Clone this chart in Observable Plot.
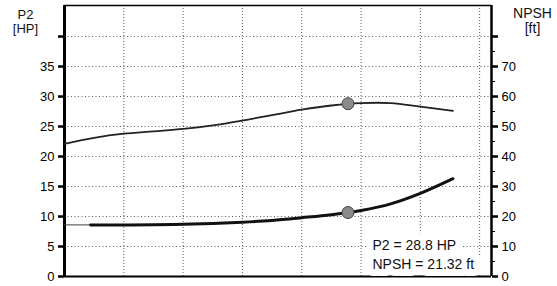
<!DOCTYPE html>
<html>
<head>
<meta charset="utf-8">
<script src="https://cdn.jsdelivr.net/npm/d3@7"></script>
<script src="https://cdn.jsdelivr.net/npm/@observablehq/plot@0.6"></script>
<style>
  html, body { margin: 0; padding: 0; background: #fff; }
  svg { display: block; }
</style>
</head>
<body>
<div id="chart"></div>
<script>
// ---- data ----
const flow  = [0, 0.5, 1, 1.5, 2, 2.5, 3, 3.5, 4, 4.5, 5, 5.5, 6, 6.55];
const p2Hp  = [22.1, 23.1, 23.8, 24.2, 24.6, 25.2, 26.0, 26.9, 27.8, 28.5, 28.9, 28.9, 28.3, 27.6];

const npshFlow = [0.44, 1, 2, 3, 3.5, 4, 4.5, 5, 5.5, 6, 6.55];
const npshFt   = [17.2, 17.2, 17.4, 18.1, 18.7, 19.6, 20.6, 22.0, 24.2, 27.7, 32.6];
const npshLeadFlow = [0, 0.44];
const npshLeadFt   = [17.2, 17.2];

const dutyFlow = [4.78];
const dutyP2   = [28.8];
const dutyNpsh = [21.32];

const xGrid   = [1, 2, 3, 4, 5, 6, 7];
const hpTicks = [0, 5, 10, 15, 20, 25, 30, 35, 40];
const hpGrid  = [5, 10, 15, 20, 25, 30, 35, 40];
const ftTicks = [0, 10, 20, 30, 40, 50, 60, 70, 80];
const ftMinor = [5, 15, 25, 35, 45, 55, 65, 75];
const hpUnlabeled = [40];
const ftUnlabeled = [80];

const leftTitle  = "P2\n[HP]";
const rightTitle = "NPSH\n[ft]";
const note = "P2 = 28.8 HP\nNPSH = 21.32 ft";

const xMax = 7.2, yMax = 45.17;
const ftToHp = v => v / 2; // right axis: 80 ft spans same height as 40 HP

const p2Data   = flow.map((x, i) => ({x, y: p2Hp[i]}));
const npshData = npshFlow.map((x, i) => ({x, y: npshFt[i]}));
const leadData = npshLeadFlow.map((x, i) => ({x, y: npshLeadFt[i]}));
const dutyData = dutyFlow.map((x, i) => ({x, p2: dutyP2[i], npsh: dutyNpsh[i]}));

const font = "Liberation Sans, Arial, sans-serif";

const chart = Plot.plot({
  width: 557,
  height: 286,
  marginLeft: 64,
  marginRight: 66,
  marginTop: 5,
  marginBottom: 10,
  style: {fontFamily: font, fontSize: "13px", background: "#fff", color: "#000"},
  x: {type: "linear", domain: [0, xMax], axis: null},
  y: {type: "linear", domain: [0, yMax], axis: null},
  marks: [
    // grid
    Plot.ruleY(hpGrid, {stroke: "#333", strokeWidth: 1, strokeDasharray: "1,2.5", strokeOpacity: 0.8}),
    Plot.ruleX(xGrid, {stroke: "#333", strokeWidth: 1, strokeDasharray: "1,2", strokeOpacity: 0.8}),
    // frame
    Plot.ruleY([yMax], {stroke: "#000", strokeWidth: 1.5}),
    Plot.ruleY([0], {stroke: "#000", strokeWidth: 2}),
    Plot.ruleX([0], {stroke: "#000", strokeWidth: 3}),
    Plot.ruleX([xMax], {stroke: "#000", strokeWidth: 2.5}),
    // left axis
    Plot.axisY(hpTicks, {anchor: "left", tickSize: 6, tickPadding: 4, strokeWidth: 2.5, stroke: "#000",
      fontSize: 13, tickFormat: d => hpUnlabeled.includes(d) ? "" : d}),
    // right axis (NPSH, ft)
    Plot.axisY(ftTicks.map(ftToHp), {anchor: "right", tickSize: 6, tickPadding: 4, strokeWidth: 2.5, stroke: "#000",
      fontSize: 13, tickFormat: d => ftUnlabeled.includes(d * 2) ? "" : d * 2}),
    Plot.axisY(ftMinor.map(ftToHp), {anchor: "right", tickSize: 3, strokeWidth: 1, stroke: "#000", tickFormat: null, text: null}),
    // curves
    Plot.line(p2Data, {x: "x", y: "y", curve: "catmull-rom", stroke: "#222", strokeWidth: 1.8}),
    Plot.line(leadData, {x: "x", y: d => ftToHp(d.y), stroke: "#444", strokeWidth: 1}),
    Plot.line(npshData, {x: "x", y: d => ftToHp(d.y), curve: "catmull-rom", stroke: "#111", strokeWidth: 3}),
    // duty points
    Plot.dot(dutyData, {x: "x", y: "p2", r: 6, fill: "#8a8a8a", stroke: "#444", strokeWidth: 1}),
    Plot.dot(dutyData, {x: "x", y: d => ftToHp(d.npsh), r: 6, fill: "#8a8a8a", stroke: "#444", strokeWidth: 1}),
    // annotation
    Plot.text([note], {frameAnchor: "bottom-right", dx: -119, dy: -8, textAnchor: "start", lineAnchor: "bottom",
      lineHeight: 1.3, fontSize: 14, fill: "#111", stroke: "#fff", strokeWidth: 14}),
    // axis titles
    Plot.text([leftTitle], {frameAnchor: "top-left", dx: -39, dy: 4, textAnchor: "middle", lineAnchor: "top",
      lineHeight: 1.05, fontSize: 13, fill: "#111"}),
    Plot.text([rightTitle], {frameAnchor: "top-right", dx: 41, dy: 2, textAnchor: "middle", lineAnchor: "top",
      lineHeight: 1.05, fontSize: 14, fill: "#111"})
  ]
});
document.getElementById("chart").appendChild(chart);
</script>
</body>
</html>
